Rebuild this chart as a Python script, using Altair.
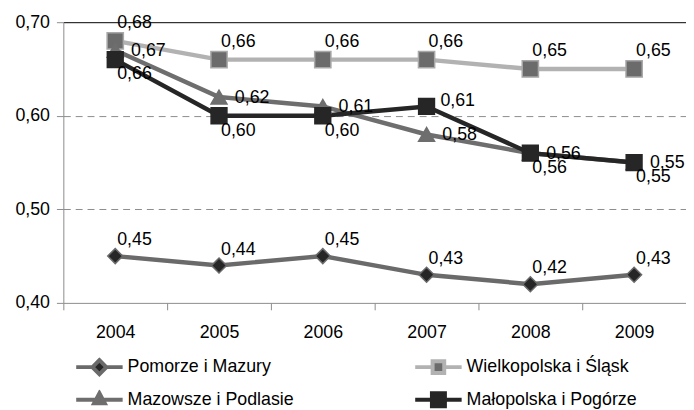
import altair as alt
import pandas as pd

years = ["2004", "2005", "2006", "2007", "2008", "2009"]
series = ["Pomorze i  Mazury", "Wielkopolska i Śląsk", "Mazowsze i Podlasie", "Małopolska i Pogórze"]
legend_order = ["Pomorze i  Mazury", "Mazowsze i Podlasie", "Wielkopolska i Śląsk", "Małopolska i Pogórze"]
pomorze = [0.45, 0.44, 0.45, 0.43, 0.42, 0.43]
wielkopolska = [0.68, 0.66, 0.66, 0.66, 0.65, 0.65]
mazowsze = [0.67, 0.62, 0.61, 0.58, 0.56, 0.55]
malopolska = [0.66, 0.60, 0.60, 0.61, 0.56, 0.55]
y_ticks = [0.40, 0.50, 0.60, 0.70]

# styles in the order of `series`
line_colors = ["#6a6a6a", "#b2b2b2", "#6e6e6e", "#262626"]
marker_fills = ["#262626", "#6b6b6b", "#6e6e6e", "#262626"]
marker_strokes = ["#6a6a6a", "#a8a8a8", "#6e6e6e", "#262626"]
marker_shapes = ["diamond", "square", "triangle-up", "square"]
marker_sizes = [230, 270, 260, 256]
legend_paths = [
    "M-1,0H-0.3M0.3,0H1M0,-0.3L0.3,0L0,0.3L-0.3,0Z",
    "M-1,0H-0.25M0.25,0H1M-0.25,-0.25H0.25V0.25H-0.25Z",
    "M-1,0H-0.2M0.2,0H1M0,-0.28L0.23,0.15L-0.23,0.15Z",
    "M-1,0H-0.28M0.28,0H1M-0.28,-0.28H0.28V0.28H-0.28Z",
]

idx = [series.index(s) for s in legend_order]
lo_line = [line_colors[i] for i in idx]
lo_fill = [marker_fills[i] for i in idx]
lo_path = [legend_paths[i] for i in idx]

FONT = "Liberation Sans, Arial, sans-serif"

rows = []
for s, vals in zip(series, [pomorze, wielkopolska, mazowsze, malopolska]):
    for yr, v in zip(years, vals):
        rows.append({"series": s, "year": yr, "value": v})
df = pd.DataFrame(rows)

grid_color = {"condition": {"test": "datum.value > 0.65", "value": "#000000"}, "value": "#8c8c8c"}
grid_dash = {"condition": {"test": "datum.value > 0.65", "value": []}, "value": [7, 5]}
grid_opacity = {"condition": {"test": "datum.value < 0.45", "value": 0}, "value": 1}

x_enc = alt.X(
    "year:O",
    sort=years,
    scale=alt.Scale(type="band", paddingInner=0, paddingOuter=0),
    axis=alt.Axis(
        title=None, labelAngle=0, tickBand="extent", domainColor="#8c8c8c",
        tickColor="#8c8c8c", tickSize=7, labelPadding=14, labelFontSize=18,
        grid=False, labelColor="#000000", labelFont=FONT,
    ),
)
y_enc = alt.Y(
    "value:Q",
    scale=alt.Scale(domain=[0.40, 0.70], nice=False, zero=False),
    axis=alt.Axis(
        title=None, values=y_ticks,
        labelExpr="replace(format(datum.value, '.2f'), '.', ',')",
        domainColor="#8c8c8c", tickColor="#8c8c8c", tickSize=7, labelPadding=7,
        labelFontSize=18, labelColor="#000000", labelFont=FONT,
        grid=True, gridColor=grid_color, gridDash=grid_dash, gridOpacity=grid_opacity,
    ),
)

base = alt.Chart(df).encode(x=x_enc, y=y_enc).transform_calculate(
    label="replace(format(datum.value, '.2f'), '.', ',')"
)

legend_def = alt.Legend(
    title=None, orient="none", legendX=11, legendY=339, columns=2,
    columnPadding=120, rowPadding=13, clipHeight=20, symbolSize=2209,
    symbolStrokeWidth=4, labelFontSize=18, labelFont=FONT, labelColor="#000000",
    labelLimit=400, labelOffset=3, padding=0,
)

stroke_scale = alt.Scale(domain=legend_order, range=lo_line)

lines = base.mark_line(strokeWidth=4.5).encode(
    stroke=alt.Stroke("series:N", scale=stroke_scale, sort=legend_order, legend=legend_def),
)

markers = []
for i, s in enumerate(series):
    markers.append(
        base.transform_filter(alt.datum.series == s).mark_point(
            shape=marker_shapes[i], filled=True, size=marker_sizes[i],
            fill=marker_fills[i], stroke=marker_strokes[i], strokeWidth=1.5, opacity=1,
        )
    )

label_style = dict(align="left", baseline="middle", fontSize=18, font=FONT, color="#000000")
texts = [
    base.transform_filter(alt.datum.series == series[0]).mark_text(dx=2, dy=-16, **label_style).encode(text="label:N"),
    base.transform_filter(alt.datum.series == series[1]).mark_text(dx=2, dy=-18, **label_style).encode(text="label:N"),
    base.transform_filter(alt.datum.series == series[2]).mark_text(dx=16, dy=1, **label_style).encode(text="label:N"),
    base.transform_filter((alt.datum.series == series[3]) & (alt.datum.year != "2007")).mark_text(dx=2, dy=15, **label_style).encode(text="label:N"),
    base.transform_filter((alt.datum.series == series[3]) & (alt.datum.year == "2007")).mark_text(dx=14, dy=-5, **label_style).encode(text="label:N"),
]

legend_layer = base.transform_filter("false").mark_point(filled=True, opacity=1).encode(
    shape=alt.Shape("series:N", scale=alt.Scale(domain=legend_order, range=lo_path), sort=legend_order, legend=legend_def),
    fill=alt.Fill("series:N", scale=alt.Scale(domain=legend_order, range=lo_fill), sort=legend_order, legend=legend_def),
    stroke=alt.Stroke("series:N", scale=stroke_scale, sort=legend_order, legend=legend_def),
)

chart = alt.layer(lines, *markers, *texts, legend_layer).properties(
    width=630, height=284,
    padding={"left": 56, "top": 12, "right": 0, "bottom": 106},
    autosize=alt.AutoSizeParams(type="none"),
).configure_view(stroke=None)

chart.save("out.html", embed_options={"renderer": "svg", "actions": False})
